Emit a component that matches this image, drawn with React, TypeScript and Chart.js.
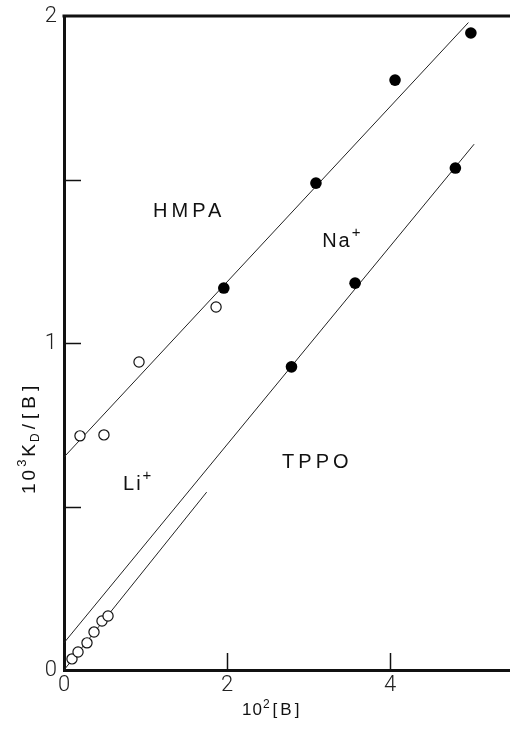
import React, { useEffect, useRef } from "react";
import { Chart, registerables } from "chart.js";

Chart.register(...registerables);

// ---- data ----
const hmpaNaX = [1.96, 3.09, 4.06, 4.99];
const hmpaNaY = [1.168, 1.489, 1.804, 1.948];
const hmpaLiX = [0.196, 0.49, 0.92, 1.865];
const hmpaLiY = [0.716, 0.719, 0.942, 1.11];
const tppoNaX = [2.79, 3.57, 4.8];
const tppoNaY = [0.927, 1.183, 1.535];
const tppoLiX = [0.098, 0.172, 0.282, 0.368, 0.466, 0.54];
const tppoLiY = [0.034, 0.055, 0.083, 0.116, 0.15, 0.165];

const hmpaFitX = [0, 4.96];
const hmpaFitY = [0.651, 1.98];
const tppoNaFitX = [0, 5.03];
const tppoNaFitY = [0.083, 1.608];
const tppoLiFitX = [0, 1.75];
const tppoLiFitY = [0, 0.544];

const xTickValues = [0, 2, 4];
const xTickLabels = ["0", "2", "4"];
const yTickValues = [0, 0.5, 1, 1.5, 2];
const yTickLabels = ["0", "", "1", "", "2"];
const xMarkValues = [2, 4];
const yMarkValues = [0.5, 1, 1.5];

const xMin = 0;
const xMax = 5.47;
const yMin = 0;
const yMax = 2;

// text annotations in data units (left / baseline)
const annotTexts = ["HMPA", "Na", "Li", "TPPO"];
const annotSup = ["", "+", "+", ""];
const annotX = [1.092, 3.166, 0.724, 2.675];
const annotY = [1.385, 1.294, 0.55, 0.618];

const FONT = '"Liberation Sans", Arial, sans-serif';
const TICKFONT = 'Roboto, "Liberation Sans", sans-serif';

const pts = (xs: number[], ys: number[]) => xs.map((x, i) => ({ x, y: ys[i] }));

type Part = { t: string; size: number; rise?: number; ls?: number; weight?: string };

function drawRich(ctx: CanvasRenderingContext2D, parts: Part[], x: number, y: number) {
  let cx = x;
  for (const p of parts) {
    ctx.font = `${p.weight || "normal"} ${p.size}px ${FONT}`;
    (ctx as any).letterSpacing = `${p.ls || 0}px`;
    ctx.fillText(p.t, cx, y - (p.rise || 0));
    cx += ctx.measureText(p.t).width;
  }
  (ctx as any).letterSpacing = "0px";
}

const decorPlugin = {
  id: "decor",
  afterDraw(chart: any) {
    const { ctx, chartArea, scales } = chart;
    const xs = scales.x;
    const ys = scales.y;
    ctx.save();
    ctx.strokeStyle = "#111";
    ctx.fillStyle = "#111";
    // top frame line
    ctx.lineWidth = 3;
    ctx.beginPath();
    ctx.moveTo(chartArea.left - 1.5, chartArea.top);
    ctx.lineTo(chartArea.right, chartArea.top);
    ctx.stroke();
    // inner tick marks
    ctx.lineWidth = 1.5;
    for (const v of yMarkValues) {
      const py = Math.round(ys.getPixelForValue(v)) + 0.5;
      ctx.beginPath();
      ctx.moveTo(chartArea.left, py);
      ctx.lineTo(chartArea.left + 17, py);
      ctx.stroke();
    }
    for (const v of xMarkValues) {
      const px = Math.round(xs.getPixelForValue(v)) + 0.5;
      ctx.beginPath();
      ctx.moveTo(px, chartArea.bottom);
      ctx.lineTo(px, chartArea.bottom - 17);
      ctx.stroke();
    }
    // annotations
    ctx.textAlign = "left";
    ctx.textBaseline = "alphabetic";
    annotTexts.forEach((t, i) => {
      const px = xs.getPixelForValue(annotX[i]);
      const py = ys.getPixelForValue(annotY[i]);
      const parts: Part[] = [{ t, size: 20, ls: annotSup[i] ? 2 : 4 }];
      if (annotSup[i]) parts.push({ t: annotSup[i], size: 15, rise: 10 });
      drawRich(ctx, parts, px, py);
    });
    // x title
    drawRich(
      ctx,
      [
        { t: "10", size: 17, ls: 1 },
        { t: "2", size: 12, rise: 7, ls: 3 },
        { t: "[B]", size: 17, ls: 3 },
      ],
      242,
      715
    );
    // y title (rotated)
    ctx.save();
    ctx.translate(35, 494);
    ctx.rotate(-Math.PI / 2);
    drawRich(
      ctx,
      [
        { t: "10", size: 19, ls: 3 },
        { t: "3", size: 13, rise: 9, ls: 3 },
        { t: "K", size: 19, ls: 2 },
        { t: "D", size: 12, rise: -4, ls: 4 },
        { t: "/[B]", size: 19, ls: 5 },
      ],
      0,
      0
    );
    ctx.restore();
    ctx.restore();
  },
};

export default function App() {
  const ref = useRef<HTMLCanvasElement | null>(null);
  useEffect(() => {
    if (!ref.current) return;
    const lineDs = (xs: number[], ys: number[]) => ({
      data: pts(xs, ys),
      showLine: true,
      borderColor: "#222",
      borderWidth: 1,
      pointRadius: 0,
      order: 2,
      clip: false as any,
    });
    const filledDs = (xs: number[], ys: number[]) => ({
      data: pts(xs, ys),
      showLine: false,
      pointRadius: 5.8,
      pointBackgroundColor: "#000",
      pointBorderColor: "#000",
      pointBorderWidth: 0,
      order: 0,
      clip: false as any,
    });
    const openDs = (xs: number[], ys: number[]) => ({
      data: pts(xs, ys),
      showLine: false,
      pointRadius: 5.1,
      pointBackgroundColor: "#fff",
      pointBorderColor: "#111",
      pointBorderWidth: 1.2,
      order: 0,
      clip: false as any,
    });
    const tickFont = { family: TICKFONT, size: 22, weight: 300 as any, lineHeight: 1 };
    const chart = new Chart(ref.current, {
      type: "scatter",
      data: {
        datasets: [
          lineDs(hmpaFitX, hmpaFitY),
          lineDs(tppoNaFitX, tppoNaFitY),
          lineDs(tppoLiFitX, tppoLiFitY),
          filledDs(hmpaNaX, hmpaNaY),
          openDs(hmpaLiX, hmpaLiY),
          filledDs(tppoNaX, tppoNaY),
          openDs(tppoLiX, tppoLiY),
        ] as any,
      },
      options: {
        animation: false,
        responsive: false,
        devicePixelRatio: 1,
        events: [],
        layout: { autoPadding: false, padding: { top: 16, right: 0, left: 0, bottom: 0 } },
        plugins: { legend: { display: false }, tooltip: { enabled: false } },
        scales: {
          x: {
            type: "linear",
            min: xMin,
            max: xMax,
            afterFit: (s: any) => {
              s.height = 60;
              s.paddingLeft = 0;
              s.paddingRight = 0;
            },
            afterBuildTicks: (s: any) => {
              s.ticks = xTickValues.map((v) => ({ value: v }));
            },
            ticks: {
              includeBounds: false,
              padding: 4,
              color: "#222",
              font: tickFont,
              callback: (v: any) => {
                const i = xTickValues.indexOf(Number(v));
                return i >= 0 ? xTickLabels[i] : "";
              },
            },
            grid: { display: true, drawOnChartArea: false, drawTicks: false },
            border: { display: true, width: 3, color: "#111" },
          },
          y: {
            type: "linear",
            min: yMin,
            max: yMax,
            afterFit: (s: any) => {
              s.width = 64;
              s.paddingTop = 0;
              s.paddingBottom = 0;
            },
            afterBuildTicks: (s: any) => {
              s.ticks = yTickValues.map((v) => ({ value: v }));
            },
            ticks: {
              includeBounds: false,
              padding: 7,
              color: "#222",
              font: tickFont,
              callback: (v: any) => {
                const i = yTickValues.indexOf(Number(v));
                return i >= 0 ? yTickLabels[i] : "";
              },
            },
            grid: { display: true, drawOnChartArea: false, drawTicks: false },
            border: { display: true, width: 3, color: "#111" },
          },
        },
      },
      plugins: [decorPlugin],
    });
    return () => chart.destroy();
  }, []);
  return (
    <div style={{ position: "absolute", left: 0, top: 0, width: 510, height: 730, background: "#fff" }}>
      <canvas ref={ref} width={510} height={730} style={{ display: "block" }} />
    </div>
  );
}
